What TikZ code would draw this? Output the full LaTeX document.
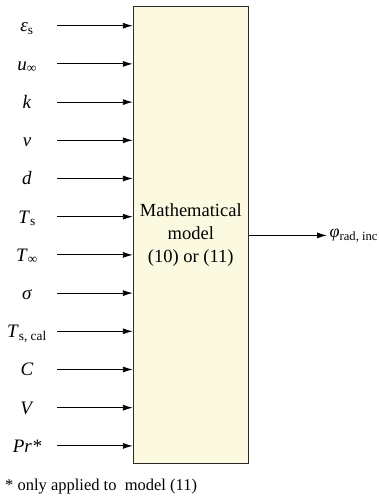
\documentclass[tikz,border=0pt]{standalone}
\usepackage{fontspec}
\setmainfont{Liberation Serif}
\usetikzlibrary{arrows.meta}
\definecolor{BoxFill}{HTML}{FBFAE0}
\definecolor{EdgeGrey}{HTML}{2A2A2A}
\newcommand\vsub[2]{\textit{#1}\textsubscript{#2}}

\begin{document}
\begin{tikzpicture}[x=1pt,y=-1pt,>={Latex[length=10pt,width=6pt]},every node/.style={font=\fontsize{19}{23}\selectfont},inarrow/.style={->,line width=.9pt}]
\useasboundingbox (0,0) rectangle (378,497);
\node[draw=EdgeGrey,fill=BoxFill,line width=1pt,minimum width=115pt,minimum height=457pt,inner sep=0pt,align=center,font=\fontsize{18.5}{23}\selectfont] (model) at (190.8,235.4){Mathematical\\model\\(10) or (11)};
% one row per input quantity
\foreach \lab [count=\i] in {{\vsub{ε}{s}},{\vsub{u}{∞}},{\textit{k}},{\textit{v}},{\textit{d}},{\vsub{T}{s}},{\vsub{T}{∞}},{\textit{σ}},{\vsub{T}{s, cal}},{\textit{C}},{\textit{V}},{\textit{Pr*}}}{
  \coordinate (s\i) at (57,25.7+38.2*\i-38.2); \node[anchor=base] (l\i) at (27,32+38.2*\i-38.2){\lab};
  \draw[inarrow] (s\i) -- (s\i -| model.west);}
\node[anchor=west,inner sep=2.5pt,font=\fontsize{18}{23}\selectfont] (out) at (327,235.4){\vsub{φ}{rad, inc}};
\draw[inarrow] (model.east) -- (model.east -| out.west);
\node[anchor=west,font=\fontsize{16.5}{20}\selectfont,inner sep=0pt] (note) at (5,487){* only applied to \ model (11)};
\end{tikzpicture}
\end{document}
